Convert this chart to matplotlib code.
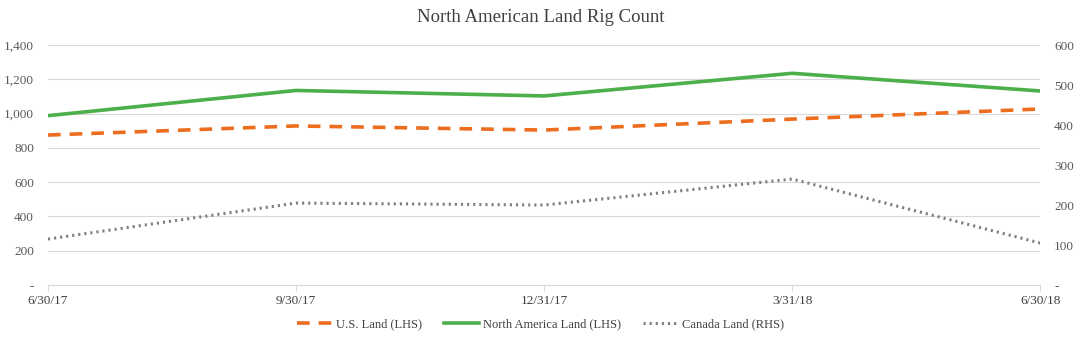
import matplotlib
matplotlib.use("Agg")
import matplotlib.pyplot as plt
from matplotlib.ticker import FuncFormatter

dates = ["6/30/17", "9/30/17", "12/31/17", "3/31/18", "6/30/18"]
us_land = [875, 928, 904, 968, 1027]
na_land = [988, 1135, 1103, 1235, 1132]
canada_land = [115, 205, 200, 265, 105]

plt.rcParams['font.family'] = ['Liberation Serif', 'DejaVu Serif']

fig = plt.figure(figsize=(10.81, 3.41), dpi=100)
ax = fig.add_axes([0.0444, 0.164, 0.918, 0.704])
ax2 = ax.twinx()

x = list(range(len(dates)))
l1, = ax.plot(x, us_land, color="#ED6D1F", lw=2.6, ls=(0, (3.5, 2.5)), label="U.S. Land (LHS)")
l2, = ax.plot(x, na_land, color="#4DAF4A", lw=2.6, label="North America Land (LHS)")
l3, = ax2.plot(x, canada_land, color="#7F7F7F", lw=2.2, ls=(0, (0.7, 1.3)), label="Canada Land (RHS)")

ax.set_xlim(0, 4)
ax.set_ylim(0, 1400)
ax2.set_ylim(0, 600)
ax.set_yticks(range(0, 1401, 200))
ax2.set_yticks(range(0, 601, 100))

fmt = FuncFormatter(lambda v, p: "-" if v == 0 else f"{int(v):,}")
ax.yaxis.set_major_formatter(fmt)
ax2.yaxis.set_major_formatter(fmt)

ax.set_xticks(x)
ax.set_xticklabels(dates)

ax.grid(axis="y", color="#D9D9D9", lw=0.8)
ax.set_axisbelow(True)
for a in (ax, ax2):
    for s in a.spines.values():
        s.set_visible(False)
    a.tick_params(axis="y", length=0, labelsize=9.5, colors="#595959", pad=10)
ax.spines["bottom"].set_visible(True)
ax.spines["bottom"].set_color("#D9D9D9")
ax.tick_params(axis="x", length=4, color="#D9D9D9", labelsize=9.5, labelcolor="#404040", pad=3)

fig.suptitle("North American Land Rig Count", y=0.975, fontsize=13.5, color="#404040")
fig.legend(handles=[l1, l2, l3], loc="center", bbox_to_anchor=(0.5, 0.048), ncol=3,
           frameon=False, fontsize=9, handlelength=2.8, columnspacing=1.8, handletextpad=0.3,
           labelcolor="#404040")

fig.savefig("out.png", dpi=100)
